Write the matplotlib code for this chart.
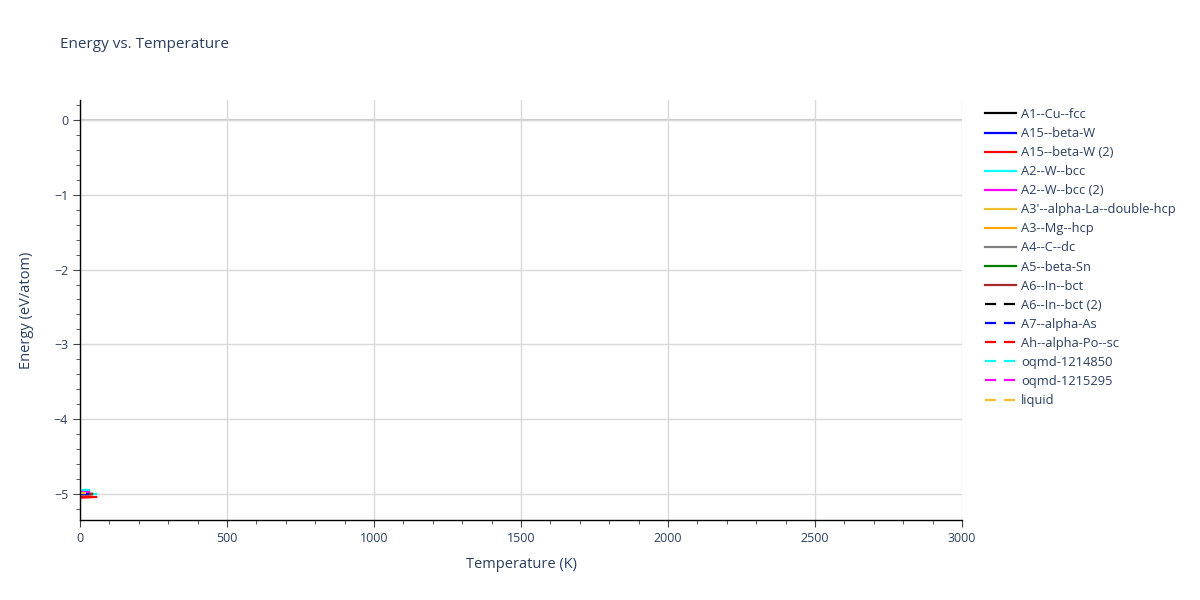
import matplotlib
matplotlib.use("Agg")
import matplotlib.pyplot as plt
from matplotlib.ticker import MultipleLocator, FuncFormatter

plt.rcParams['font.family'] = ['Open Sans', 'DejaVu Sans']

# phase names, colours and line style as in the legend
phases = ["A1--Cu--fcc", "A15--beta-W", "A15--beta-W (2)", "A2--W--bcc", "A2--W--bcc (2)",
          "A3'--alpha-La--double-hcp", "A3--Mg--hcp", "A4--C--dc", "A5--beta-Sn", "A6--In--bct",
          "A6--In--bct (2)", "A7--alpha-As", "Ah--alpha-Po--sc", "oqmd-1214850", "oqmd-1215295",
          "liquid"]
colors = ["black", "blue", "red", "cyan", "magenta", "#f0c030", "orange", "gray", "green",
          "brown", "black", "blue", "red", "cyan", "magenta", "#f0c030"]
dashed = [False] * 10 + [True] * 6

# temperature (K) and energy (eV/atom) per phase
temps = [
    [0, 40], [0, 40], [0, 55], [0, 55], [0, 30],
    [0, 40], [0, 40], [0, 40], [0, 40], [0, 40],
    [0, 30], [0, 30], [0, 40], [0, 34], [0, 28],
    [0, 20],
]
energies = [
    [-5.00, -5.00], [-5.00, -5.00], [-5.05, -5.04], [-5.00, -5.00], [-4.98, -4.98],
    [-5.00, -5.00], [-5.00, -5.00], [-5.00, -5.00], [-5.00, -5.00], [-5.00, -5.00],
    [-5.00, -5.00], [-5.00, -5.00], [-5.04, -5.035], [-4.95, -4.95], [-4.97, -4.97],
    [-4.99, -4.99],
]

txt = "#2a3f5f"
fig = plt.figure(figsize=(12, 6), dpi=100)
ax = fig.add_axes([80 / 1200, 1 - 520 / 600, 882 / 1200, 420 / 600])

for name, c, d, t, e in zip(phases, colors, dashed, temps, energies):
    ax.plot(t, e, color=c, lw=1.6, ls=(0, (5, 3.5)) if d else "-", label=name)

ax.set_xlim(0, 3000)
ax.set_ylim(-5.348, 0.267)
ax.xaxis.set_major_locator(MultipleLocator(500))
ax.xaxis.set_minor_locator(MultipleLocator(100))
ax.yaxis.set_major_locator(MultipleLocator(1))
ax.yaxis.set_minor_locator(MultipleLocator(0.2))
ax.yaxis.set_major_formatter(FuncFormatter(lambda v, p: f"{v:.0f}".replace("-", "\u2212")))

ax.grid(True, which="major", color="#d8d8d8", lw=1)
ax.axhline(0, color="#c8c8c8", lw=1.5, zorder=0.5)
ax.set_axisbelow(True)
for s in ["top", "right"]:
    ax.spines[s].set_visible(False)
for s in ["left", "bottom"]:
    ax.spines[s].set_color("black")
    ax.spines[s].set_linewidth(1)
ax.tick_params(which="major", length=5, color="#444444", labelcolor=txt, labelsize=9)
ax.tick_params(which="minor", length=3, color="#444444")

ax.set_xlabel("Temperature (K)", color=txt, fontsize=10.5, labelpad=9)
ax.set_ylabel("Energy (eV/atom)", color=txt, fontsize=10.5, labelpad=14)
fig.text(60 / 1200, 1 - 45 / 600, "Energy vs. Temperature", color=txt, fontsize=11, va="center")

leg = ax.legend(loc="upper left", bbox_to_anchor=((985 - 80) / 882, (520 - 108) / 420),
                frameon=False, fontsize=9.3, labelcolor=txt, handlelength=2.4,
                handletextpad=0.4, labelspacing=0.47, borderaxespad=0, borderpad=0)

fig.savefig("out.png", dpi=100)
